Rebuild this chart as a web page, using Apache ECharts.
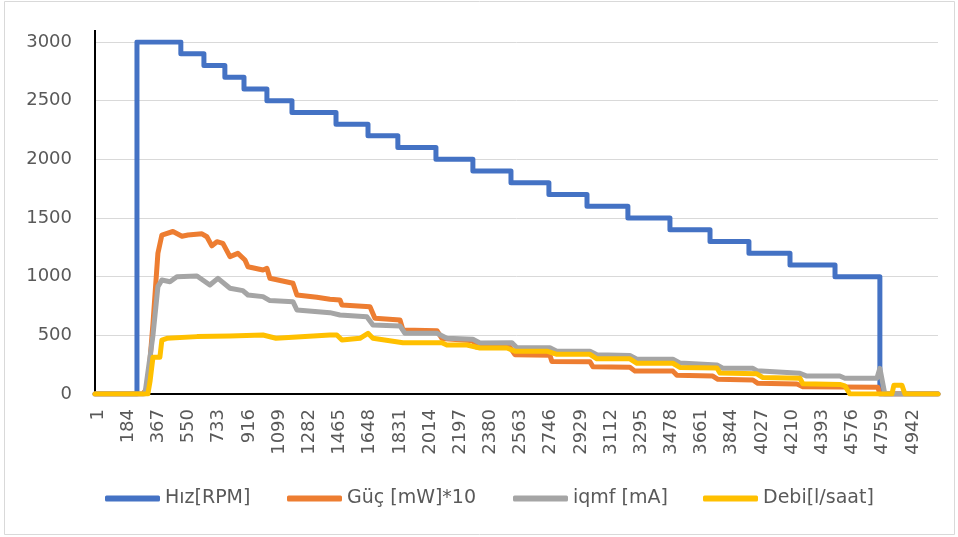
<!DOCTYPE html>
<html>
<head>
<meta charset="utf-8">
<script src="https://cdn.jsdelivr.net/npm/echarts@6/dist/echarts.min.js"></script>
<style>
  html, body { margin: 0; padding: 0; background: #ffffff; }
  #chart { width: 958px; height: 537px; }
</style>
</head>
<body>
<div id="chart"></div>
<script>
// Number of logged samples (category positions on the x axis)
const sampleCount = 5112;

// X axis tick labels (every 183rd sample)
const xTickLabels = [1, 184, 367, 550, 733, 916, 1099, 1282, 1465, 1648, 1831, 2014, 2197, 2380,
  2563, 2746, 2929, 3112, 3295, 3478, 3661, 3844, 4027, 4210, 4393, 4576, 4759, 4942];

// Y axis ticks
const yMin = 0, yMax = 3000, yStep = 500;

const seriesNames = ['Hız[RPM]', 'Güç [mW]*10', 'iqmf [mA]', 'Debi[l/saat]'];
const seriesColors = ['#4472C4', '#ED7D31', '#A5A5A5', '#FFC000'];

// Speed set-point: sample where each level begins, and the level
const rpmAt = [1, 255, 521, 661, 788, 904, 1043, 1195, 1462, 1656, 1837, 2068, 2292, 2523,
  2753, 2984, 3232, 3487, 3730, 3966, 4215, 4488, 4760, 5112];
const rpmVal = [0, 3000, 2900, 2800, 2700, 2600, 2500, 2400, 2300, 2200, 2100, 2000, 1900, 1800,
  1700, 1600, 1500, 1400, 1300, 1200, 1100, 1000, 0, 0];

// Power (mW x 10)
const gucAt = [1, 291, 321, 352, 382, 406, 473, 528, 564, 649, 679, 709, 740, 776, 819, 867, 910, 928,
  1019, 1043, 1061, 1201, 1225, 1346, 1425, 1486, 1498, 1668, 1698, 1850, 1868, 2074, 2104, 2292,
  2316, 2517, 2547, 2759, 2771, 3002, 3020, 3244, 3275, 3505, 3529, 3747, 3778, 3990, 4020, 4257,
  4293, 4748, 4760, 5112];
const gucVal = [0, 0, 60, 600, 1200, 1355, 1385, 1345, 1355, 1365, 1340, 1262, 1298, 1284, 1171, 1199,
  1142, 1085, 1057, 1071, 986, 944, 844, 824, 807, 801, 759, 744, 645, 631, 545, 540, 474, 454,
  400, 398, 335, 330, 278, 275, 232, 228, 195, 195, 160, 153, 125, 119, 91, 85,
  62, 57, 0, 0];

// Motor current (mA)
const iqmfAt = [1, 303, 352, 382, 406, 455, 497, 619, 697, 746, 819, 897, 928, 1019, 1061, 1201, 1225,
  1425, 1486, 1649, 1686, 1850, 1880, 2074, 2134, 2292, 2335, 2529, 2559, 2759, 2801, 3002, 3044,
  3244, 3287, 3505, 3547, 3772, 3808, 3990, 4014, 4275, 4317, 4517, 4548, 4742, 4760, 4790, 5112];
const iqmfVal = [0, 0, 500, 915, 972, 957, 1000, 1006, 929, 986, 901, 881, 844, 830, 796, 787, 716,
  693, 673, 659, 588, 580, 517, 517, 475, 466, 435, 437, 395, 395, 365, 365, 335,
  328, 296, 296, 265, 247, 219, 219, 199, 176, 153, 153, 134, 134, 219, 0, 0];

// Flow (l/h)
const debiAt = [1, 321, 334, 352, 394, 406, 437, 619, 819, 1019, 1098, 1425, 1467, 1498, 1607, 1656,
  1686, 1868, 2104, 2134, 2256, 2335, 2498, 2547, 2741, 2801, 3002, 3044, 3244, 3287, 3505, 3547,
  3772, 3790, 4014, 4051, 4275, 4293, 4517, 4548, 4578, 4833, 4845, 4894, 4912, 5112];
const debiVal = [0, 0, 105, 313, 313, 460, 475, 489, 494, 503, 475, 503, 503, 460, 475, 517,
  475, 437, 437, 418, 418, 392, 392, 365, 365, 338, 338, 300, 300, 262, 262, 226,
  222, 180, 172, 140, 134, 88, 82, 70, 0, 0, 75, 75, 0, 0];

const pairs = (xs, ys) => xs.map((x, i) => [x, ys[i]]);

const textFont = 'DejaVu Sans';
const textColor = '#595959';

const chart = echarts.init(document.getElementById('chart'), null, { renderer: 'canvas' });

const lineSeries = (name, color, data, step) => ({
  name: name,
  type: 'line',
  data: data,
  step: step || false,
  symbol: 'none',
  showSymbol: false,
  smooth: false,
  animation: false,
  lineStyle: { color: color, width: 5, cap: 'round', join: 'round' },
  itemStyle: { color: color }
});

// One legend block per series so each entry sits at its own position
const legendLefts = [105, 287, 513, 703];
const legends = seriesNames.map((name, i) => ({
  data: [name],
  left: legendLefts[i],
  top: 489,
  padding: 0,
  icon: 'roundRect',
  itemWidth: 55,
  itemHeight: 6,
  textStyle: { color: textColor, fontSize: 19, fontFamily: textFont }
}));

chart.setOption({
  animation: false,
  backgroundColor: '#ffffff',
  color: seriesColors,
  grid: { left: 95, right: 20, top: 42, bottom: 143 },
  legend: legends,
  xAxis: {
    type: 'value',
    min: 0.5,
    max: sampleCount + 0.5,
    axisLine: { show: true, lineStyle: { color: '#000000', width: 2 } },
    axisTick: { show: false },
    splitLine: { show: false },
    axisLabel: {
      customValues: xTickLabels,
      rotate: 90,
      margin: 15,
      color: textColor,
      fontSize: 18,
      fontFamily: textFont,
      formatter: (v) => '{t|' + v + '}',
      rich: { t: { color: textColor, fontSize: 18, fontFamily: textFont, padding: [6, 0, 0, 0] } }
    }
  },
  yAxis: {
    type: 'value',
    min: yMin,
    max: yMax,
    interval: yStep,
    axisLine: { show: true, lineStyle: { color: '#000000', width: 2 } },
    axisTick: { show: false },
    splitLine: { show: true, lineStyle: { color: '#D9D9D9', width: 1 } },
    axisLabel: {
      margin: 23,
      color: textColor,
      fontSize: 18,
      fontFamily: textFont,
      formatter: (v) => String(v)
    }
  },
  graphic: [
    {
      type: 'rect',
      silent: true,
      shape: { x: 4.5, y: 1.5, width: 950, height: 533 },
      style: { fill: 'none', stroke: '#D9D9D9', lineWidth: 1 }
    },
    {
      type: 'line',
      silent: true,
      shape: { x1: 95, y1: 30, x2: 95, y2: 42 },
      style: { stroke: '#000000', lineWidth: 2 }
    }
  ],
  series: [
    lineSeries(seriesNames[0], seriesColors[0], pairs(rpmAt, rpmVal), 'end'),
    lineSeries(seriesNames[1], seriesColors[1], pairs(gucAt, gucVal)),
    lineSeries(seriesNames[2], seriesColors[2], pairs(iqmfAt, iqmfVal)),
    lineSeries(seriesNames[3], seriesColors[3], pairs(debiAt, debiVal))
  ]
});
</script>
</body>
</html>
